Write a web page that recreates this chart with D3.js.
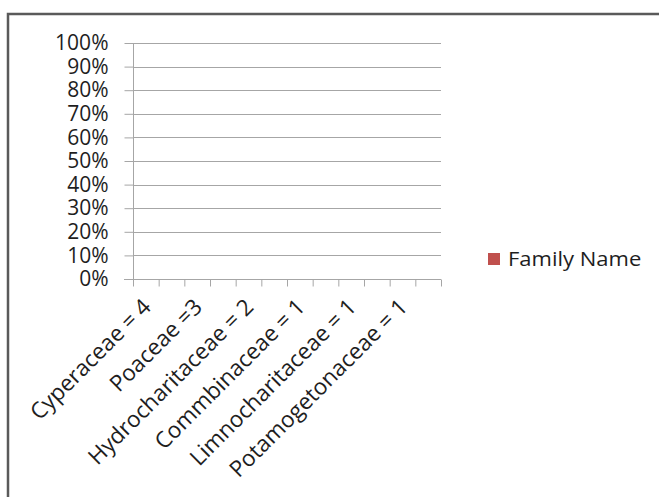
<!DOCTYPE html>
<html>
<head>
<meta charset="utf-8">
<script src="https://cdn.jsdelivr.net/npm/d3@7"></script>
<style>
  html, body { margin: 0; padding: 0; background: #fff; }
  svg { display: block; }
  text { font-family: "Open Sans", sans-serif; fill: #1e1e1e; }
</style>
</head>
<body>
<svg id="chart" width="659" height="497"></svg>
<script>
// Category slots along the x axis (every second slot is unlabelled)
const categories = [
  "Cyperaceae = 4", "",
  "Poaceae =3", "",
  "Hydrocharitaceae = 2", "",
  "Commbinaceae = 1", "",
  "Limnocharitaceae = 1", "",
  "Potamogetonaceae = 1", ""
];
// Series values (cells left empty, so no columns are drawn)
const seriesName = "Family Name";
const seriesValues = [null, null, null, null, null, null, null, null, null, null, null, null];
const yTicks = [0, 0.1, 0.2, 0.3, 0.4, 0.5, 0.6, 0.7, 0.8, 0.9, 1];
const seriesColor = "#c0504d";

const svg = d3.select("#chart");

// Outer chart frame (top and left edges)
svg.append("path")
  .attr("d", "M8,497 L8,14 L659,14")
  .attr("fill", "none")
  .attr("stroke", "#5a5a5a")
  .attr("stroke-width", 2.5);

const plot = { left: 133, right: 441, top: 43, bottom: 279 };

const x = d3.scaleLinear().domain([0, categories.length]).range([plot.left, plot.right]);
const y = d3.scaleLinear().domain([0, 1]).range([plot.bottom, plot.top]);

// Gridlines
svg.append("g")
  .selectAll("line")
  .data(yTicks.slice(1))
  .join("line")
  .attr("x1", plot.left).attr("x2", plot.right)
  .attr("y1", d => Math.round(y(d)) + 0.5).attr("y2", d => Math.round(y(d)) + 0.5)
  .attr("stroke", "#a6a6a6").attr("stroke-width", 1);

// Columns (100% stacked, empty values produce no marks)
svg.append("g")
  .selectAll("rect")
  .data(seriesValues.map((v, i) => ({ v, i })).filter(d => d.v != null))
  .join("rect")
  .attr("x", d => x(d.i) + 5)
  .attr("width", d => x(d.i + 1) - x(d.i) - 10)
  .attr("y", d => y(1))
  .attr("height", d => y(0) - y(1))
  .attr("fill", seriesColor);

// Y axis
const yAxis = svg.append("g")
  .attr("transform", `translate(${plot.left + 0.5},0)`)
  .call(d3.axisLeft(y).tickValues(yTicks).tickFormat(d3.format(".0%")).tickSize(9).tickPadding(16));
yAxis.select(".domain").attr("stroke", "#a6a6a6").attr("d", `M0,${plot.top}V${plot.bottom}`);
yAxis.selectAll(".tick line").attr("stroke", "#a6a6a6");
yAxis.selectAll(".tick text")
  .attr("font-size", 21)
  .attr("font-family", "Open Sans")
  .attr("fill", "#1e1e1e");

// X axis: tick marks on the slot boundaries
const xAxis = svg.append("g")
  .attr("transform", `translate(0,${Math.round(plot.bottom) + 0.5})`)
  .call(d3.axisBottom(x).tickValues(d3.range(categories.length + 1)).tickFormat("").tickSize(7));
xAxis.select(".domain").attr("stroke", "#a6a6a6").attr("d", `M${plot.left - 9},0H${plot.right}`);
xAxis.selectAll(".tick line").attr("stroke", "#a6a6a6");

// Category labels, rotated, anchored near each slot centre
svg.append("g")
  .selectAll("text")
  .data(categories.map((c, i) => ({ c, i })).filter(d => d.c !== ""))
  .join("text")
  .attr("transform", d => `translate(${x(d.i + 0.5) - 5},${plot.bottom + 18}) rotate(-45)`)
  .attr("text-anchor", "end")
  .attr("dy", "0.72em")
  .attr("font-size", 22.5)
  .text(d => d.c);

// Legend
const legend = svg.append("g").attr("transform", "translate(488,253)");
legend.append("rect").attr("width", 12).attr("height", 12).attr("fill", seriesColor);
legend.append("text")
  .attr("transform", "translate(20,13) scale(1.1,1)")
  .attr("font-size", 20)
  .text(seriesName);
</script>
</body>
</html>
